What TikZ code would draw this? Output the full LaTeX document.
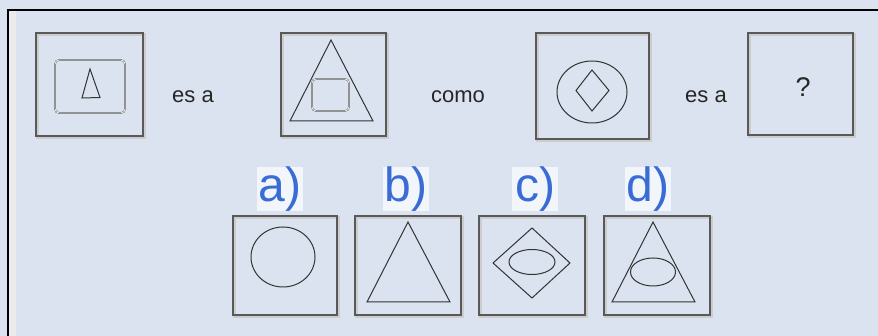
\documentclass[tikz,border=0pt]{standalone}
\usepackage{fontspec}
\setmainfont{Liberation Sans}
\usepackage{xcolor}
\usetikzlibrary{positioning}
\definecolor{bgc}{RGB}{218,227,239}
\definecolor{optblue}{RGB}{58,108,214}
\tikzset{
  panel/.style={draw=black!65, line width=1.3pt, inner sep=0pt,
                preaction={draw=black!20, line width=2.6pt,
                           transform canvas={shift={(1.5pt,-1.5pt)}}}},
  outl/.style={draw=black!80, line width=1pt},
  dbl/.style={draw=black!65, double=white!85!bgc, double distance=0.8pt,
              rounded corners=4pt},
  word/.style={font=\fontsize{22}{24}\selectfont, text=black!85},
  optlbl/.style={font=\fontsize{48}{50}\selectfont, text=optblue,
                 fill=white!65!bgc, inner sep=0pt, minimum width=46pt,
                 minimum height=43pt},
}

\begin{document}
\begin{tikzpicture}[x=1pt, y=-1pt]
  \useasboundingbox (0,0) rectangle (878,336);
  \fill[bgc] (0,0) rectangle (878,336);
  % frame
  \fill[black!8] (9,11) rectangle (16,336);
  \draw[line width=1.5pt] (8,336) -- (8,10) -- (878,10);
  % question row
  \node[panel, minimum width=107pt, minimum height=103pt] (t1) at (89.5,84.5) {};
  \draw[dbl] (55,60) rectangle (125,113);
  \draw[outl] (90,69) -- (100,97.5) -- (82,98) -- cycle;
  \node[word] (w1) at (193,97) {es a};
  \node[panel, minimum width=105pt, minimum height=103pt] (t2) at (333.5,84.5) {};
  \draw[outl] (331,40) -- (373,121) -- (290,121) -- cycle;
  \draw[dbl] (312,79) rectangle (349,111);
  \node[word] (w2) at (458,97) {como};
  \node[panel, minimum width=113pt, minimum height=106pt] (t3) at (592.5,86) {};
  \draw[outl] (592,92) ellipse [x radius=35, y radius=31];
  \draw[outl] (592,70) -- (609,90.5) -- (592,111) -- (576,90.5) -- cycle;
  \node[word] (w3) at (706,97) {es a};
  \node[panel, minimum width=105pt, minimum height=102pt] (t4) at (800.5,84) {};
  \node[font=\fontsize{27}{29}\selectfont, text=black!85] (qm) at (803,87) {?};
  % answer row
  \node[panel, minimum width=104pt, minimum height=99pt] (oa) at (285,265.5) {};
  \draw[outl] (283,257) ellipse [x radius=32, y radius=30];
  \node[panel, minimum width=106pt, minimum height=99pt] (ob) at (408,265.5) {};
  \draw[outl] (408,222) -- (450,302) -- (367,302) -- cycle;
  \node[panel, minimum width=106pt, minimum height=99pt] (oc) at (532,265.5) {};
  \draw[outl] (532,228) -- (570,263) -- (532,298) -- (493,263) -- cycle;
  \draw[outl] (532,262) ellipse [x radius=23, y radius=12.5];
  \node[panel, minimum width=106pt, minimum height=99pt] (od) at (657,265.5) {};
  \draw[outl] (653,222) -- (695,302) -- (612,302) -- cycle;
  \draw[outl] (653,272) ellipse [x radius=22.5, y radius=14];
  \node[optlbl] (la) at (280,189) {a)};
  \node[optlbl] (lb) at (406,189) {b)};
  \node[optlbl] (lc) at (535,189) {c)};
  \node[optlbl] (ld) at (648,189) {d)};
\end{tikzpicture}
\end{document}
